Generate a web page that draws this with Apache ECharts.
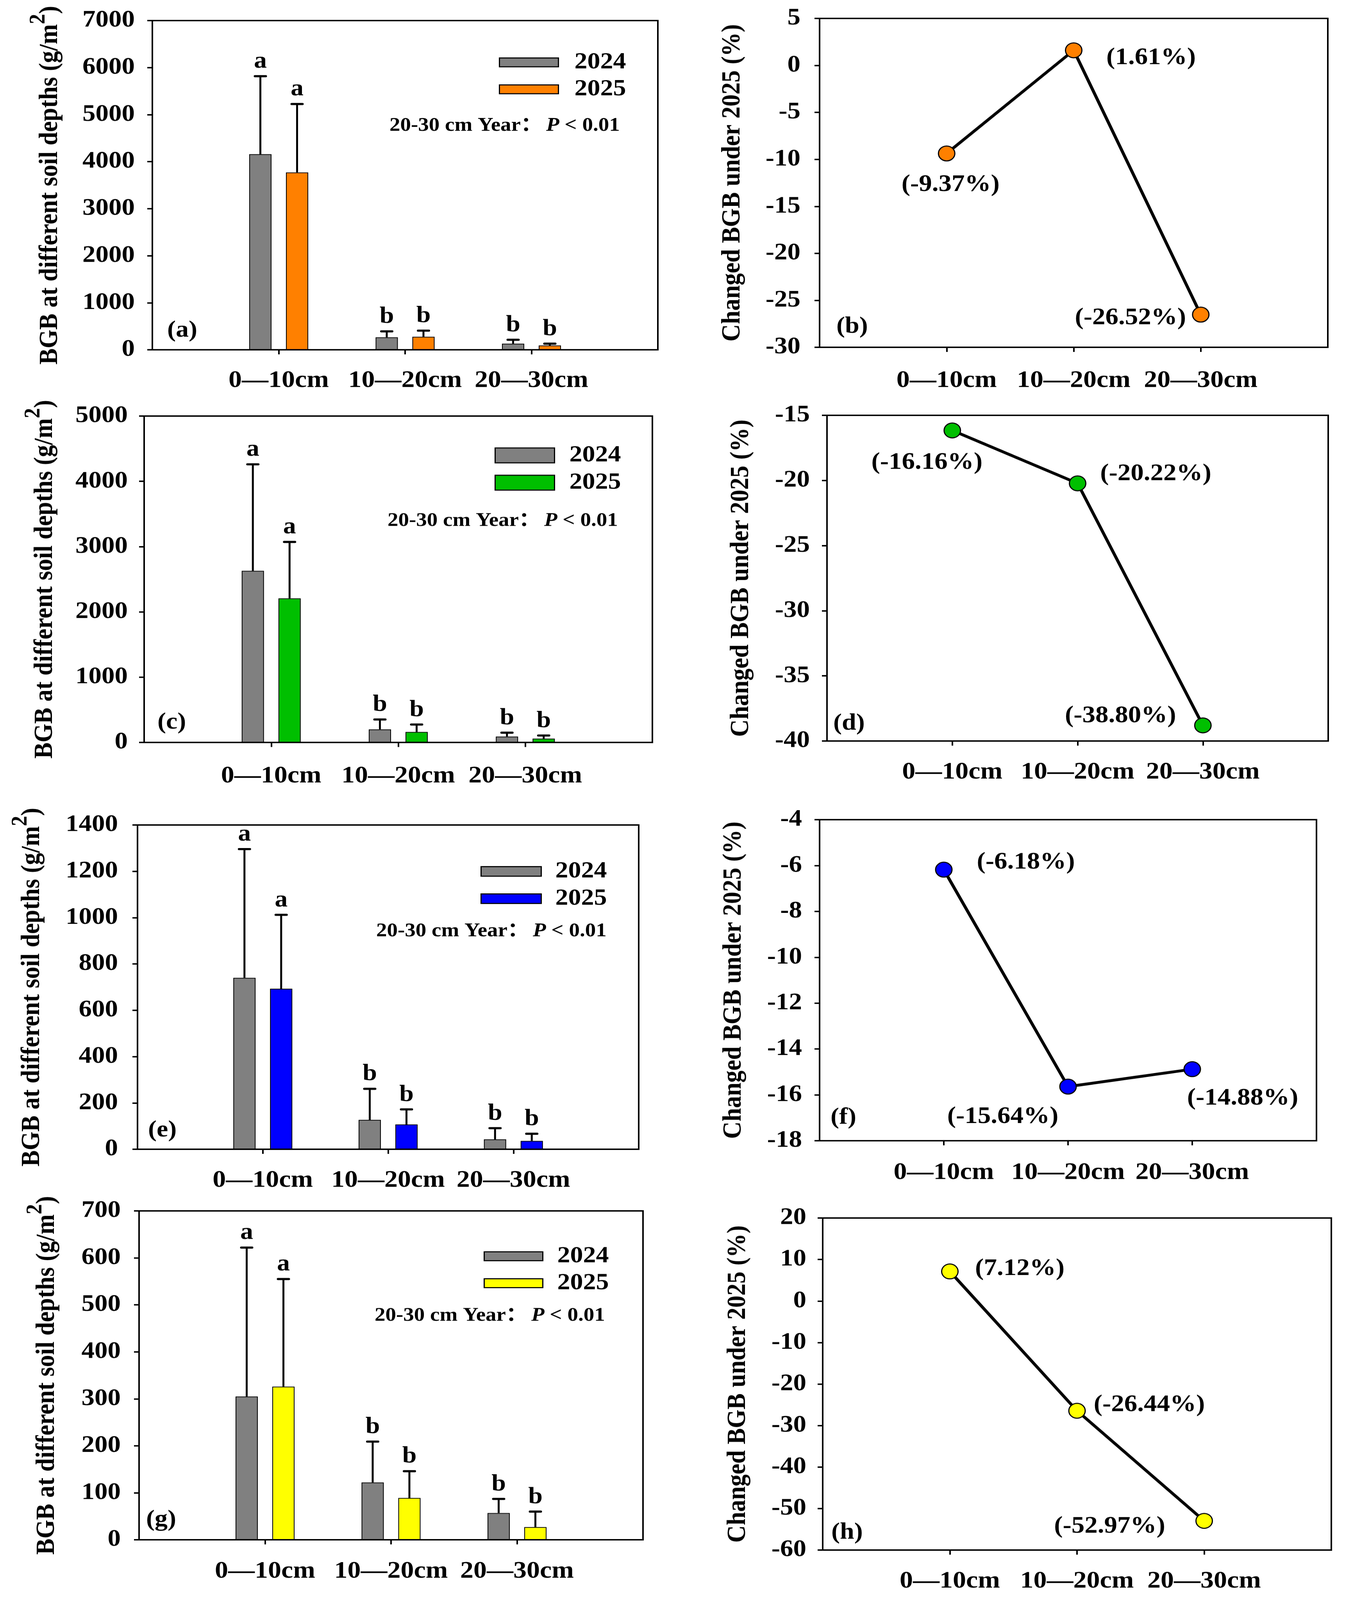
<!DOCTYPE html>
<html>
<head>
<meta charset="utf-8">
<script src="https://cdn.jsdelivr.net/npm/echarts@6/dist/echarts.min.js"></script>
<style>
  html, body { margin: 0; padding: 0; background: #fff; overflow: hidden; }
  #chart { width: 3443px; height: 4515px; transform-origin: 0 0; }
</style>
</head>
<body>
<div id="chart"></div>
<script>
// categories
const depths = ["0\u201410cm", "10\u201420cm", "20\u201430cm"];
const years = ["2024", "2025"];

// BGB means and SD (g/m2), panels a, c, e, g
const bgbA2024 = [4160, 266, 130];
const sdA2024 = [1657, 125, 82];
const bgbA2025 = [3771, 277, 92];
const sdA2025 = [1455, 130, 38];

const bgbC2024 = [2629, 200, 90];
const sdC2024 = [1631, 152, 59];
const bgbC2025 = [2207, 160, 59];
const sdC2025 = [864, 114, 47];

const bgbE2024 = [740, 127, 43];
const sdE2024 = [556, 134, 48];
const bgbE2025 = [693, 107, 36];
const sdE2025 = [319, 65, 31];

const bgbG2024 = [305, 122, 57];
const sdG2024 = [317, 87, 30];
const bgbG2025 = [326, 89, 27];
const sdG2025 = [229, 57, 33];

// significance letters
const sig2024 = ["a", "b", "b"];
const sig2025 = ["a", "b", "b"];

// changed BGB under 2025 (%), panels b, d, f, h
const changeB = [-9.37, 1.61, -26.52];
const changeD = [-16.16, -20.22, -38.80];
const changeF = [-6.18, -15.64, -14.88];
const changeH = [7.12, -26.44, -52.97];

const noteText = "20-30 cm Year\uff1a";

const FONT = "'Liberation Serif', 'Times New Roman', 'Noto Sans CJK SC', serif";
const BLACK = "#000";
const GRAY = "#808080";

// the figure is 4515 px tall; squeeze it to fit the visible window if needed
const el = document.getElementById("chart");
const fit = Math.min(1, window.innerHeight / 4515);
el.style.transform = "scale(1, " + fit + ")";

const barPanels = [
  { key: "a", idx: 0, grid: { left: 390, top: 58, width: 1294, height: 929 }, max: 7000, step: 1000,
    color: "#FF8000", m24: bgbA2024, s24: sdA2024, m25: bgbA2025, s25: sdA2025,
    legend: { left: 1277, top: 143, w: 151, h: 25, gap: 10, pad: 36 }, note: [997, 355], tag: [428, 933],
    labelMargin: 53, nameGap: 228, tickMargin: 45 },
  { key: "c", idx: 2, grid: { left: 369, top: 1174, width: 1301, height: 921 }, max: 5000, step: 1000,
    color: "#00BF00", m24: bgbC2024, s24: sdC2024, m25: bgbC2025, s25: sdC2025,
    legend: { left: 1266, top: 1252, w: 152, h: 42, gap: 11, pad: 33 }, note: [992, 1470], tag: [403, 2039],
    labelMargin: 61, nameGap: 220, tickMargin: 42 },
  { key: "e", idx: 4, grid: { left: 352, top: 2328, width: 1283, height: 915 }, max: 1400, step: 200,
    color: "#0000FF", m24: bgbE2024, s24: sdE2024, m25: bgbE2025, s25: sdE2025,
    legend: { left: 1230, top: 2426, w: 154, h: 27, gap: 11, pad: 31 }, note: [963, 2628], tag: [379, 3190],
    labelMargin: 54, nameGap: 236, tickMargin: 50 },
  { key: "g", idx: 6, grid: { left: 356, top: 3417, width: 1290, height: 928 }, max: 700, step: 100,
    color: "#FFFF00", m24: bgbG2024, s24: sdG2024, m25: bgbG2025, s25: sdG2025,
    legend: { left: 1238, top: 3512, w: 150, h: 25, gap: 10, pad: 32 }, note: [959, 3713], tag: [374, 4289],
    labelMargin: 55, nameGap: 202, tickMargin: 47 }
];

const linePanels = [
  { key: "b", idx: 1, grid: { left: 2098, top: 52, width: 1301, height: 928 }, min: -30, max: 5, step: 5,
    color: "#FF8000", values: changeB, offsets: [[10, 89], [198, 22], [-180, 10]], tag: [2141, 922],
    labelMargin: 60, nameGap: 189, tickMargin: 49 },
  { key: "d", idx: 3, grid: { left: 2117, top: 1172, width: 1283, height: 919 }, min: -40, max: -15, step: 5,
    color: "#00BF00", values: changeD, offsets: [[-65, 91], [200, -26], [-211, -26]], tag: [2133, 2042],
    labelMargin: 54, nameGap: 186, tickMargin: 44 },
  { key: "f", idx: 5, grid: { left: 2098, top: 2313, width: 1272, height: 906 }, min: -18, max: -4, step: 2,
    color: "#0000FF", values: changeF, offsets: [[210, -20], [-167, 85], [129, 83]], tag: [2126, 3154],
    labelMargin: 56, nameGap: 186, tickMargin: 45 },
  { key: "h", idx: 7, grid: { left: 2106, top: 3437, width: 1302, height: 937 }, min: -60, max: 20, step: 10,
    color: "#FFFF00", values: changeH, offsets: [[179, -7], [185, -16], [-242, 16]], tag: [2128, 4325],
    labelMargin: 54, nameGap: 183, tickMargin: 42 }
];

const BAR_W = 57;
const BAR_OFF = 47;

const grids = [], xAxes = [], yAxes = [], series = [], legends = [], titles = [];

function makeX(idx, margin) {
  return {
    type: "category", gridIndex: idx, boundaryGap: false,
    data: ["", ...depths, ""],
    axisLine: { onZero: false, lineStyle: { color: BLACK, width: 4 } },
    axisTick: { inside: false, length: 13, lineStyle: { color: BLACK, width: 4 },
      interval: (i) => i >= 1 && i <= 3 },
    axisLabel: { interval: 0, margin: margin, color: BLACK, fontSize: 68, fontWeight: "bold", fontFamily: FONT },
    splitLine: { show: false }
  };
}

function makeY(idx, min, max, step, nameRich, name, gap, tickMargin) {
  return {
    type: "value", gridIndex: idx, min: min, max: max, interval: step,
    name: name, nameLocation: "middle", nameRotate: 90, nameGap: gap,
    nameTextStyle: { color: BLACK, fontSize: 68, fontWeight: "bold", fontFamily: FONT, rich: nameRich },
    axisLine: { show: true, onZero: false, lineStyle: { color: BLACK, width: 4 } },
    axisTick: { show: true, inside: false, length: 13, lineStyle: { color: BLACK, width: 4 } },
    axisLabel: { margin: tickMargin, color: BLACK, fontSize: 67, fontWeight: "bold", fontFamily: FONT,
      formatter: (v) => String(v) },
    splitLine: { show: false }
  };
}

function gridOf(g) {
  return Object.assign({ show: true, borderColor: BLACK, borderWidth: 4, backgroundColor: "transparent",
    containLabel: false }, g);
}

function errorSeries(idx, means, sds, letters, offset, name) {
  const data = means.map((m, i) => [i + 1, m, sds[i]]);
  return {
    type: "custom", name: name, xAxisIndex: idx, yAxisIndex: idx, z: 5,
    data: data,
    renderItem: (params, api) => {
      const i = api.value(0), m = api.value(1), sd = api.value(2);
      const base = api.coord([i, m]);
      const top = api.coord([i, m + sd]);
      const x = base[0] + offset;
      return {
        type: "group",
        children: [
          { type: "line", shape: { x1: x, y1: base[1], x2: x, y2: top[1] }, style: { stroke: BLACK, lineWidth: 5 } },
          { type: "line", shape: { x1: x - 14, y1: top[1], x2: x + 14, y2: top[1] },
            style: { stroke: BLACK, lineWidth: 6, lineCap: "round" } },
          { type: "text", x: x, y: top[1] - 8,
            style: { text: letters[params.dataIndex], fill: BLACK, font: "bold 66px " + FONT,
              textAlign: "center", textVerticalAlign: "bottom" } }
        ]
      };
    }
  };
}

const bgbName = "{t|BGB at different soil depths (g/m}{s|2}{t|)}";
const bgbRich = {
  t: { fontSize: 68, fontWeight: "bold", fontFamily: FONT, color: BLACK, lineHeight: 68, verticalAlign: "bottom" },
  s: { fontSize: 58, fontWeight: "bold", fontFamily: FONT, color: BLACK, lineHeight: 58, verticalAlign: "bottom",
       padding: [0, 0, 34, 0] }
};

barPanels.forEach((p) => {
  const i = p.idx;
  grids[i] = gridOf(p.grid);
  xAxes[i] = makeX(i, p.labelMargin);
  yAxes[i] = makeY(i, 0, p.max, p.step, bgbRich, bgbName, p.nameGap, p.tickMargin);
  const n24 = p.key + ":" + years[0], n25 = p.key + ":" + years[1];
  series.push({
    type: "bar", name: n24, xAxisIndex: i, yAxisIndex: i,
    data: ["-", ...p.m24, "-"], barWidth: BAR_W, barGap: "65%",
    itemStyle: { color: GRAY, borderColor: BLACK, borderWidth: 2 }
  });
  series.push({
    type: "bar", name: n25, xAxisIndex: i, yAxisIndex: i,
    data: ["-", ...p.m25, "-"], barWidth: BAR_W, barGap: "65%",
    itemStyle: { color: p.color, borderColor: BLACK, borderWidth: 2 }
  });
  series.push(errorSeries(i, p.m24, p.s24, sig2024, -BAR_OFF, p.key + "-err24"));
  series.push(errorSeries(i, p.m25, p.s25, sig2025, BAR_OFF, p.key + "-err25"));
  legends.push({
    data: [n24, n25], orient: "vertical", left: p.legend.left, top: p.legend.top, padding: 0,
    itemWidth: p.legend.w, itemHeight: p.legend.h, itemGap: p.legend.gap, icon: "rect",
    selectedMode: false,
    itemStyle: { borderColor: BLACK, borderWidth: 3 },
    formatter: (name) => name.split(":")[1],
    textStyle: { color: BLACK, fontSize: 66, lineHeight: 66, fontWeight: "bold", fontFamily: FONT,
      padding: [0, 0, 0, p.legend.pad] }
  });
  titles.push({
    text: "{n|" + noteText + "}{i|P}{n| < 0.01}", left: p.note[0], top: p.note[1] - 28, padding: 0,
    textStyle: { rich: {
      n: { fontSize: 55, fontWeight: "bold", fontFamily: FONT, color: BLACK, lineHeight: 56 },
      i: { fontSize: 55, fontWeight: "bold", fontStyle: "italic", fontFamily: FONT, color: BLACK, lineHeight: 56, padding: [0, 0, 0, 10] }
    } }
  });
  titles.push({
    text: "(" + p.key + ")", left: p.tag[0], top: p.tag[1] - 33, padding: 0,
    textStyle: { color: BLACK, fontSize: 66, lineHeight: 66, fontWeight: "bold", fontFamily: FONT }
  });
});

linePanels.forEach((p) => {
  const i = p.idx;
  grids[i] = gridOf(p.grid);
  xAxes[i] = makeX(i, p.labelMargin);
  yAxes[i] = makeY(i, p.min, p.max, p.step, {}, "Changed BGB under 2025 (%)", p.nameGap, p.tickMargin);
  const pts = p.values.map((v, k) => ({ value: v, label: { offset: p.offsets[k] } }));
  series.push({
    type: "line", name: p.key + ":change", xAxisIndex: i, yAxisIndex: i,
    data: ["-", ...pts, "-"],
    symbol: "circle", symbolSize: 42,
    lineStyle: { color: BLACK, width: 8 },
    itemStyle: { color: p.color, borderColor: BLACK, borderWidth: 3 },
    label: { show: true, position: "inside", color: BLACK, fontSize: 67, fontWeight: "bold", fontFamily: FONT,
      formatter: (d) => "(" + Number(d.value).toFixed(2) + "%)" },
    z: 3
  });
  titles.push({
    text: "(" + p.key + ")", left: p.tag[0], top: p.tag[1] - 33, padding: 0,
    textStyle: { color: BLACK, fontSize: 66, lineHeight: 66, fontWeight: "bold", fontFamily: FONT }
  });
});

const chart = echarts.init(el, null, { renderer: "canvas" });
chart.setOption({
  backgroundColor: "#fff",
  animation: false,
  title: titles,
  legend: legends,
  grid: grids,
  xAxis: xAxes,
  yAxis: yAxes,
  series: series
});
</script>
</body>
</html>
